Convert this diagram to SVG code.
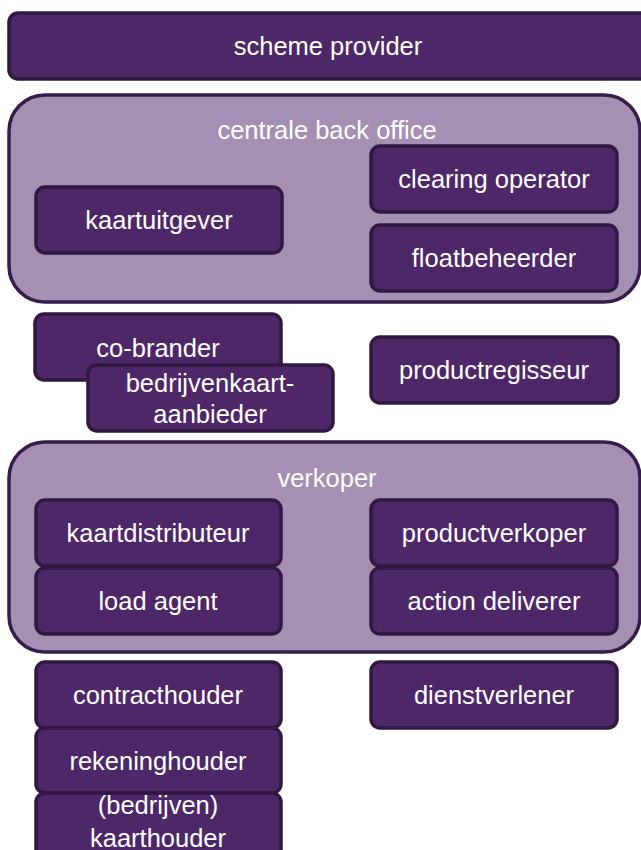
<svg xmlns="http://www.w3.org/2000/svg" width="641" height="850" viewBox="0 0 641 850">
<style>
.n{fill:#4e2768;stroke:#311840;stroke-width:3.5}
.c{fill:#a590b4;stroke:#361c4a;stroke-width:3.5}
text{font-family:"Liberation Sans",Arial,sans-serif;font-size:25.5px;fill:#ffffff;text-anchor:middle}
</style>
<rect width="641" height="850" fill="#ffffff"/>
<g id="scheme-provider"><rect class="n" x="9" y="13" width="640" height="66" rx="9"/><text x="328" y="55">scheme provider</text></g>
<g id="centrale-back-office"><rect class="c" x="9" y="95" width="631" height="207" rx="36"/><text x="327" y="139">centrale back office</text></g>
<g id="kaartuitgever"><rect class="n" x="36" y="187" width="246" height="66" rx="9"/><text x="159" y="229">kaartuitgever</text></g>
<g id="clearing-operator"><rect class="n" x="371" y="146" width="246" height="66" rx="9"/><text x="494" y="188">clearing operator</text></g>
<g id="floatbeheerder"><rect class="n" x="371" y="225" width="246" height="66" rx="9"/><text x="494" y="267">floatbeheerder</text></g>
<g id="co-brander"><rect class="n" x="35" y="314" width="246" height="66" rx="9"/><text x="158" y="357">co-brander</text></g>
<g id="bedrijvenkaart-aanbieder"><rect class="n" x="88" y="365" width="245" height="66" rx="9"/><text x="210" y="392">bedrijvenkaart-</text><text x="210" y="423">aanbieder</text></g>
<g id="productregisseur"><rect class="n" x="371" y="337" width="247" height="66" rx="9"/><text x="494" y="379">productregisseur</text></g>
<g id="verkoper"><rect class="c" x="9" y="442" width="631" height="210" rx="36"/><text x="327" y="487">verkoper</text></g>
<g id="kaartdistributeur"><rect class="n" x="36" y="500" width="245" height="66" rx="9"/><text x="158" y="542">kaartdistributeur</text></g>
<g id="load-agent"><rect class="n" x="36" y="568" width="245" height="66" rx="9"/><text x="158" y="610">load agent</text></g>
<g id="productverkoper"><rect class="n" x="371" y="500" width="246" height="66" rx="9"/><text x="494" y="542">productverkoper</text></g>
<g id="action-deliverer"><rect class="n" x="371" y="568" width="246" height="66" rx="9"/><text x="494" y="610">action deliverer</text></g>
<g id="contracthouder"><rect class="n" x="36" y="662" width="245" height="66" rx="9"/><text x="158" y="704">contracthouder</text></g>
<g id="dienstverlener"><rect class="n" x="371" y="662" width="246" height="66" rx="9"/><text x="494" y="704">dienstverlener</text></g>
<g id="rekeninghouder"><rect class="n" x="36" y="728" width="245" height="65" rx="9"/><text x="158" y="770">rekeninghouder</text></g>
<g id="kaarthouder"><rect class="n" x="36" y="793" width="245" height="67" rx="9"/><text x="158" y="814">(bedrijven)</text><text x="158" y="847">kaarthouder</text></g>
<g id="connectors"/>
</svg>
